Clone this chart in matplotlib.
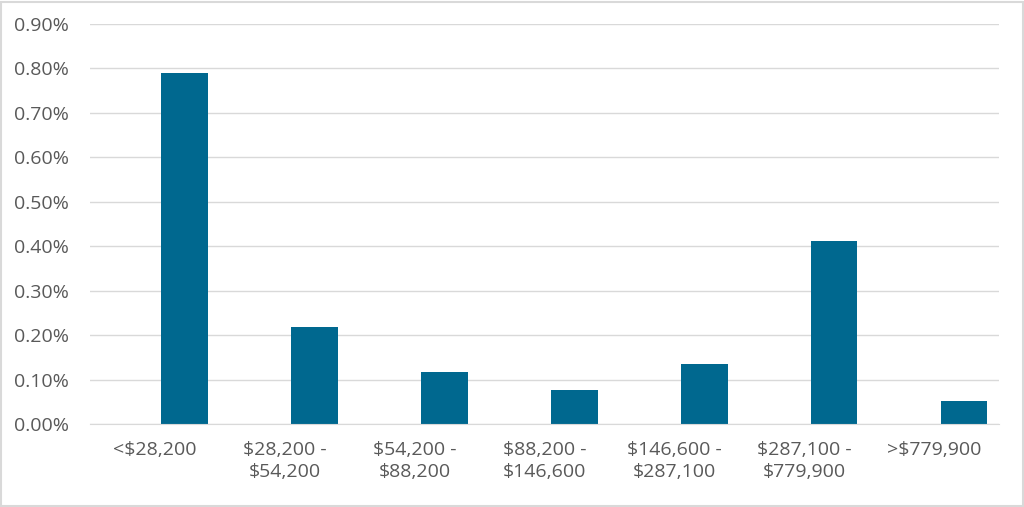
import numpy as np
import matplotlib
matplotlib.use("Agg")
from matplotlib import pyplot as plt
from matplotlib.ticker import FuncFormatter
from matplotlib.patches import Rectangle

# Income brackets and the share (in percent) for each
brackets = ["<$28,200", "$28,200 -\n$54,200", "$54,200 -\n$88,200",
            "$88,200 -\n$146,600", "$146,600 -\n$287,100",
            "$287,100 -\n$779,900", ">$779,900"]
values = [0.79, 0.218, 0.117, 0.077, 0.135, 0.412, 0.052]
yticks = [0.0, 0.1, 0.2, 0.3, 0.4, 0.5, 0.6, 0.7, 0.8, 0.9]

plt.rcParams['font.family'] = ['Open Sans', 'DejaVu Sans']
text_color = '#595959'
grid_color = '#D9D9D9'

fig = plt.figure(figsize=(10.24, 5.07), dpi=100)
ax = fig.add_axes([0.0879, 0.1637, 0.8877, 0.789])

x = np.arange(len(brackets))
ax.bar(x + 0.23, values, width=0.36, color='#00688F', zorder=3)

ax.set_xlim(-0.5, len(brackets) - 0.5)
ax.set_ylim(0, 0.9)
ax.set_yticks(yticks)
ax.yaxis.set_major_formatter(FuncFormatter(lambda v, p: f"{v:.2f}%"))
ax.set_xticks(x)
ax.set_xticklabels(brackets, linespacing=1.3)

ax.grid(axis='y', color=grid_color, linewidth=1, zorder=0)
for s in ['top', 'right', 'left']:
    ax.spines[s].set_visible(False)
ax.spines['bottom'].set_color(grid_color)
ax.spines['bottom'].set_zorder(4)
ax.tick_params(axis='both', length=0, colors=text_color, labelsize=14)
ax.tick_params(axis='x', pad=12)
ax.tick_params(axis='y', pad=15)

# light frame around the whole figure
fig.patches.append(Rectangle((0.001, 0.001), 0.998, 0.996, transform=fig.transFigure,
                             fill=False, edgecolor='#D9D9D9', linewidth=1.5))

fig.savefig("out.png", dpi=100)
